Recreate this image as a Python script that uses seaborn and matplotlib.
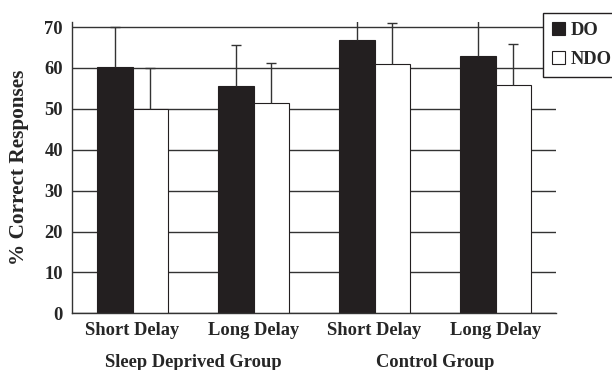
import numpy as np
import pandas as pd
import matplotlib.pyplot as plt
import seaborn as sns

# data
conditions = ['sleep_short', 'sleep_long', 'ctrl_short', 'ctrl_long']
tick_labels = ['Short Delay', 'Long Delay', 'Short Delay', 'Long Delay']
groups = ['Sleep Deprived Group', 'Control Group']
group_members = [[0, 1], [2, 3]]

do_values = [60.3, 55.6, 66.9, 62.9]
ndo_values = [50.0, 51.3, 60.9, 55.8]
do_err = [9.7, 10.1, 8.5, 9.0]
ndo_err = [10.0, 10.0, 10.0, 10.1]

df = pd.DataFrame({
    'condition': conditions * 2,
    'type': ['DO'] * 4 + ['NDO'] * 4,
    'pct': do_values + ndo_values,
})

sns.set_style('white')
plt.rcParams['font.family'] = ['Liberation Serif', 'DejaVu Serif']
plt.rcParams['font.weight'] = 'bold'

fig = plt.figure(figsize=(6.12, 3.70), dpi=100)
ax = fig.add_axes([72 / 612, 1 - 313.3 / 370, 484 / 612, 291.2 / 370])

ink = '#231f20'
sns.barplot(data=df, x='condition', y='pct', hue='type', order=conditions,
            hue_order=['DO', 'NDO'], palette={'DO': ink, 'NDO': 'white'},
            width=0.59, edgecolor=ink, linewidth=0.8, saturation=1,
            errorbar=None, ax=ax, zorder=2)

# one-sided error bars (upward only)
for cont, errs in zip(ax.containers, [do_err, ndo_err]):
    for bar, e in zip(cont.patches, errs):
        xc = bar.get_x() + bar.get_width() / 2
        top = bar.get_height()
        ax.vlines(xc, top, top + e, color='#333333', lw=1.0, zorder=3)
        ax.plot([xc], [top + e], marker='_', ms=7, mew=1.0,
                color='#333333', zorder=3)

ax.set_xlim(-0.5, 3.5)
ax.set_ylim(0, 71.2)
ax.set_yticks(range(0, 71, 10))
ax.yaxis.grid(True, color='#333333', lw=1.0)
ax.set_axisbelow(True)

for s in ['top', 'right']:
    ax.spines[s].set_visible(False)
for s in ['left', 'bottom']:
    ax.spines[s].set_color('#333333')
    ax.spines[s].set_linewidth(1.0)

ax.tick_params(axis='both', length=0, labelsize=13.3)
ax.tick_params(axis='y', pad=6.5)
ax.tick_params(axis='x', pad=6)
ax.set_xticks(range(len(conditions)))
ax.set_xticklabels(tick_labels, fontweight='bold')
for t in ax.get_yticklabels():
    t.set_fontweight('bold')

ax.set_xlabel('')
ax.set_ylabel('% Correct Responses', fontsize=15.3, fontweight='bold')
ax.yaxis.set_label_coords(-0.089, 0.5)

for name, members in zip(groups, group_members):
    ax.text(np.mean(members), -0.17, name, transform=ax.get_xaxis_transform(),
            ha='center', va='center', fontsize=13.3, fontweight='bold')

handles, labels = ax.get_legend_handles_labels()
ax.legend(handles, labels, loc='upper left',
          bbox_to_anchor=(543 / 612, 1 - 13 / 370), bbox_transform=fig.transFigure,
          borderaxespad=0, fancybox=False, framealpha=1, edgecolor=ink,
          handlelength=0.7, handleheight=0.7, handletextpad=0.3,
          labelspacing=0.62, borderpad=0.5, prop={'size': 13.3, 'weight': 'bold'})
ax.get_legend().get_frame().set_linewidth(1.0)

fig.savefig('out.png', dpi=100)
